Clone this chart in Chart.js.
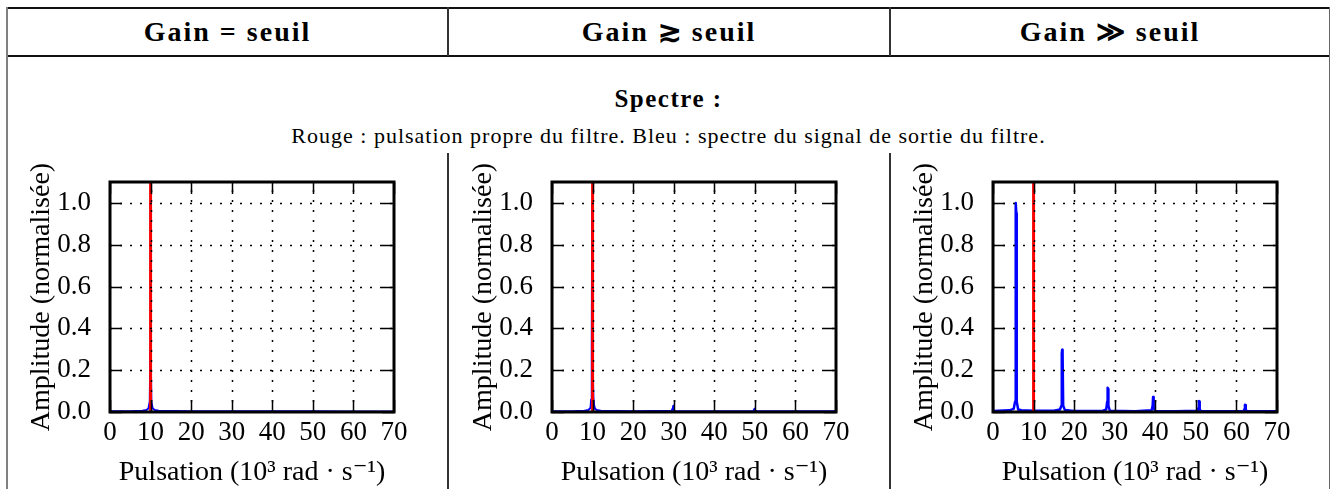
<!DOCTYPE html>
<html>
<head>
<meta charset="utf-8">
<script src="https://cdn.jsdelivr.net/npm/chart.js@4.4.1/dist/chart.umd.min.js"></script>
<style>
  body { margin: 0; background: #fff; width: 1331px; height: 489px; overflow: hidden; position: relative;
         font-family: "Liberation Serif", "DejaVu Serif", serif; color: #000; }
  .ln { position: absolute; }
  .txt { position: absolute; text-align: center; white-space: nowrap; }
  canvas { position: absolute; }
</style>
</head>
<body>
<!-- table lines -->
<div class="ln" style="left:6px;top:7px;width:1324px;height:2px;background:#111"></div>
<div class="ln" style="left:6px;top:55px;width:1324px;height:2px;background:#111"></div>
<div class="ln" style="left:6px;top:7px;width:2px;height:482px;background:#808080"></div>
<div class="ln" style="left:1329px;top:7px;width:1px;height:482px;background:#666"></div>
<div class="ln" style="left:447px;top:7px;width:2px;height:49px;background:#333"></div>
<div class="ln" style="left:889px;top:7px;width:2px;height:49px;background:#333"></div>
<div class="ln" style="left:447px;top:153px;width:2px;height:336px;background:#333"></div>
<div class="ln" style="left:889px;top:153px;width:2px;height:336px;background:#333"></div>

<div class="txt" style="left:8px;width:439px;top:9px;line-height:46px;font-size:28px;font-weight:bold;letter-spacing:2px">Gain = seuil</div>
<div class="txt" style="left:449px;width:440px;top:9px;line-height:46px;font-size:28px;font-weight:bold;letter-spacing:2px">Gain ≳ seuil</div>
<div class="txt" style="left:891px;width:438px;top:9px;line-height:46px;font-size:28px;font-weight:bold;letter-spacing:2px">Gain ≫ seuil</div>
<div class="txt" style="left:8px;width:1321px;top:84px;line-height:30px;font-size:25px;font-weight:bold;letter-spacing:1.5px">Spectre :</div>
<div class="txt" style="left:8px;width:1321px;top:123px;line-height:26px;font-size:22px;letter-spacing:1px">Rouge : pulsation propre du filtre. Bleu : spectre du signal de sortie du filtre.</div>

<canvas id="c1" width="400" height="339" style="left:12px;top:150px"></canvas>
<canvas id="c2" width="400" height="339" style="left:454px;top:150px"></canvas>
<canvas id="c3" width="400" height="339" style="left:895px;top:150px"></canvas>

<script>
// axes
const xMin = 0, xMax = 70, xStep = 10;
const yMin = 0, yMax = 1.1, yStep = 0.2;
const xTitle = 'Pulsation (10³ rad · s⁻¹)';
const yTitle = 'Amplitude (normalisée)';

// red line: natural pulsation of the filter
const redX = [10, 10];
const redY = [0, 1.1];

// Gain = seuil
const eqX = [0, 5, 8, 9, 9.5, 9.8, 9.95, 10, 10.05, 10.2, 10.5, 11, 12, 20, 30, 40, 50, 60, 70];
const eqY = [0.003, 0.004, 0.006, 0.01, 0.018, 0.05, 0.3, 1.0, 0.3, 0.05, 0.018, 0.01, 0.006, 0.004, 0.003, 0.003, 0.003, 0.002, 0.002];

// Gain legerement au-dessus du seuil
const aboveX = [0, 5, 8, 9, 9.5, 9.65, 9.75, 9.85, 9.9, 9.95, 10.2, 10.4, 10.6, 11, 12, 20, 29.5, 29.8, 29.9, 30, 30.2, 31, 40, 49.6, 49.9, 50, 50.3, 60, 69.5, 70];
const aboveY = [0.003, 0.004, 0.006, 0.01, 0.02, 0.06, 0.07, 0.3, 1.0, 0.3, 0.07, 0.03, 0.015, 0.01, 0.006, 0.004, 0.006, 0.02, 0.03, 0.01, 0.005, 0.003, 0.003, 0.004, 0.015, 0.01, 0.003, 0.003, 0.004, 0.006];

// Gain tres au-dessus du seuil
const farX = [0, 4, 5.1, 5.45, 5.55, 5.65, 5.75, 5.85, 6.2, 7, 10, 15, 16.5, 16.85, 16.95, 17.05, 17.15, 17.3, 17.7, 20,
              27, 27.9, 28.15, 28.25, 28.35, 28.45, 28.8, 35, 39.1, 39.35, 39.45, 39.55, 39.65, 40, 45,
              50.4, 50.65, 50.75, 50.85, 50.95, 51.3, 56, 61.8, 62.0, 62.1, 62.2, 62.3, 62.6, 70];
const farY = [0.005, 0.008, 0.015, 0.05, 0.95, 1.0, 0.95, 0.05, 0.012, 0.008, 0.006, 0.006, 0.012, 0.03, 0.28, 0.298, 0.28, 0.03, 0.01, 0.005,
              0.005, 0.012, 0.05, 0.116, 0.11, 0.03, 0.006, 0.004, 0.008, 0.03, 0.072, 0.07, 0.02, 0.005, 0.004,
              0.006, 0.02, 0.053, 0.05, 0.012, 0.004, 0.003, 0.005, 0.015, 0.035, 0.033, 0.01, 0.004, 0.003];

const FONT = '"Liberation Serif", "DejaVu Serif", serif';

function pts(xs, ys) {
    return xs.map((x, i) => ({x: x, y: ys[i]}));
}

// matplotlib classic look: dotted grid and inward ticks drawn over the data, plus a full box
const mplFrame = {
    id: 'mplFrame',
    afterDatasetsDraw(chart) {
        const ctx = chart.ctx;
        const a = chart.chartArea;
        const sx = chart.scales.x, sy = chart.scales.y;
        ctx.save();
        ctx.strokeStyle = '#000';
        ctx.lineWidth = 1.5;
        ctx.setLineDash([2, 8]);
        ctx.beginPath();
        sx.ticks.forEach(t => {
            if (t.value <= xMin || t.value >= xMax) return;
            const px = Math.round(sx.getPixelForValue(t.value)) + 0.5;
            ctx.moveTo(px, a.bottom); ctx.lineTo(px, a.top);
        });
        sy.ticks.forEach(t => {
            if (t.value <= yMin + 1e-9 || t.value >= yMax - 1e-9) return;
            const py = Math.round(sy.getPixelForValue(t.value)) + 0.5;
            ctx.moveTo(a.left, py); ctx.lineTo(a.right, py);
        });
        ctx.stroke();
        ctx.setLineDash([]);
        const tl = 12;
        ctx.beginPath();
        sx.ticks.forEach(t => {
            const px = Math.round(sx.getPixelForValue(t.value)) + 0.5;
            ctx.moveTo(px, a.bottom); ctx.lineTo(px, a.bottom - tl);
            ctx.moveTo(px, a.top); ctx.lineTo(px, a.top + tl);
        });
        sy.ticks.forEach(t => {
            const py = Math.round(sy.getPixelForValue(t.value)) + 0.5;
            ctx.moveTo(a.left, py); ctx.lineTo(a.left + tl, py);
            ctx.moveTo(a.right, py); ctx.lineTo(a.right - tl, py);
        });
        ctx.stroke();
        ctx.lineWidth = 3;
        ctx.strokeRect(a.left, a.top, a.right - a.left, a.bottom - a.top);
        ctx.restore();
    }
};

function makeChart(id, xs, ys, blueWidth) {
    const ctx = document.getElementById(id).getContext('2d');
    return new Chart(ctx, {
        type: 'line',
        data: {
            datasets: [
                {
                    label: 'spectre',
                    data: pts(xs, ys),
                    borderColor: '#0000ff',
                    borderWidth: blueWidth,
                    borderJoinStyle: 'round',
                    pointRadius: 0,
                    tension: 0,
                    order: 2
                },
                {
                    label: 'pulsation propre',
                    data: pts(redX, redY),
                    borderColor: '#ff0000',
                    borderWidth: 3,
                    pointRadius: 0,
                    order: 1
                }
            ]
        },
        options: {
            responsive: false,
            animation: false,
            devicePixelRatio: 1,
            layout: { padding: { top: 32, right: 18, left: 0, bottom: 0 } },
            plugins: { legend: { display: false }, tooltip: { enabled: false } },
            scales: {
                x: {
                    type: 'linear',
                    min: xMin, max: xMax,
                    ticks: { stepSize: xStep, padding: -3, color: '#000', maxRotation: 0, autoSkip: false,
                             font: { family: FONT, size: 27 } },
                    grid: { display: false },
                    border: { display: false },
                    title: { display: true, text: xTitle, color: '#000',
                             font: { family: FONT, size: 28 }, padding: { top: 0, bottom: 0 } },
                    afterFit: s => { s.height = 77; }
                },
                y: {
                    type: 'linear',
                    min: yMin, max: yMax,
                    ticks: { stepSize: yStep, includeBounds: false, padding: 11, color: '#000',
                             font: { family: FONT, size: 27 },
                             callback: v => v.toFixed(1) },
                    grid: { display: false },
                    border: { display: false },
                    title: { display: true, text: yTitle, color: '#000',
                             font: { family: FONT, size: 28 }, padding: { top: 13, bottom: 0 } },
                    afterFit: s => { s.width = 98; }
                }
            }
        },
        plugins: [mplFrame]
    });
}

makeChart('c1', eqX, eqY, 2);
makeChart('c2', aboveX, aboveY, 2);
makeChart('c3', farX, farY, 2.5);
</script>
</body>
</html>
